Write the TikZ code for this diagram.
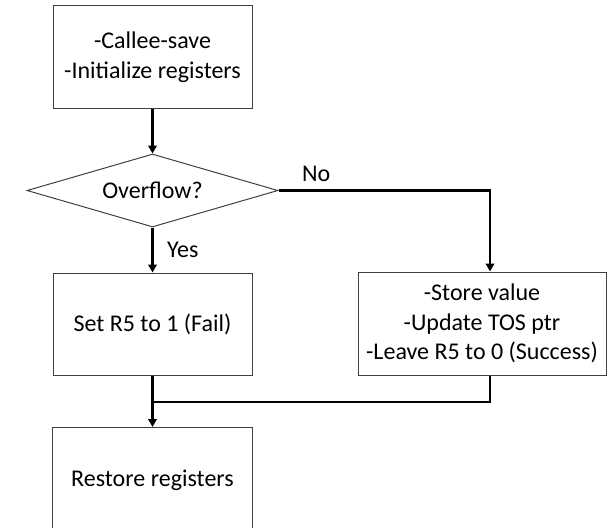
\documentclass[tikz,border=0pt]{standalone}
\usepackage{fontspec}
\setmainfont{Carlito}
\usetikzlibrary{shapes.geometric,arrows.meta}
\begin{document}
\begin{tikzpicture}[x=1pt,y=-1pt,
  txt/.style={font=\fontsize{24}{29.5}\selectfont},
  procbox/.style={txt,draw=black!75,line width=1pt,fill=white,minimum width=199pt,align=center,inner sep=0pt},
  decision/.style={txt,draw=black!75,line width=1pt,diamond,aspect=3.4,inner sep=0pt,minimum width=251pt,minimum height=73pt},
  flow/.style={line width=2.4pt,-{Triangle[length=8pt,width=8.5pt]}},
  joinline/.style={line width=2.4pt},
  lbl/.style={txt,inner sep=0pt}]
\useasboundingbox (0,0) rectangle (607,527);
% boxes
\node[procbox,minimum height=102pt] (init) at (152.5,57) {-Callee-save\\-Initialize registers};
\node[decision] (ovf) at (152.5,190.5) {Overflow?};
\node[procbox,minimum height=102pt] (fail) at (152.5,324) {Set R5 to 1 (Fail)};
\node[procbox,minimum width=248pt,minimum height=103pt] (ok) at (482,323.5) {-Store value\\-Update TOS ptr\\-Leave R5 to 0 (Success)};
% last box runs past the lower edge of the page
\node[txt,minimum width=199pt,minimum height=106pt,inner sep=0pt] (rest) at (152.5,480) {Restore registers};
\draw[draw=black!75,line width=1pt] (rest.west |- 0,427) rectangle (rest.east |- 0,560);
% connectors
\coordinate (merge) at (152.5,402);
\draw[flow] (init) -- (ovf.north);
\draw[flow] (ovf.south) -- (fail);
\draw[flow] (ovf.east) -| (ok.north -| 490,0);
\draw[joinline] (ok.south -| 490,0) |- (merge);
\draw[flow] (fail) -- (152.5,427);
% branch labels
\node[lbl,anchor=west] (yes) at (167,250) {Yes};
\node[lbl,anchor=west] (no) at (302,174) {No};
\end{tikzpicture}
\end{document}
